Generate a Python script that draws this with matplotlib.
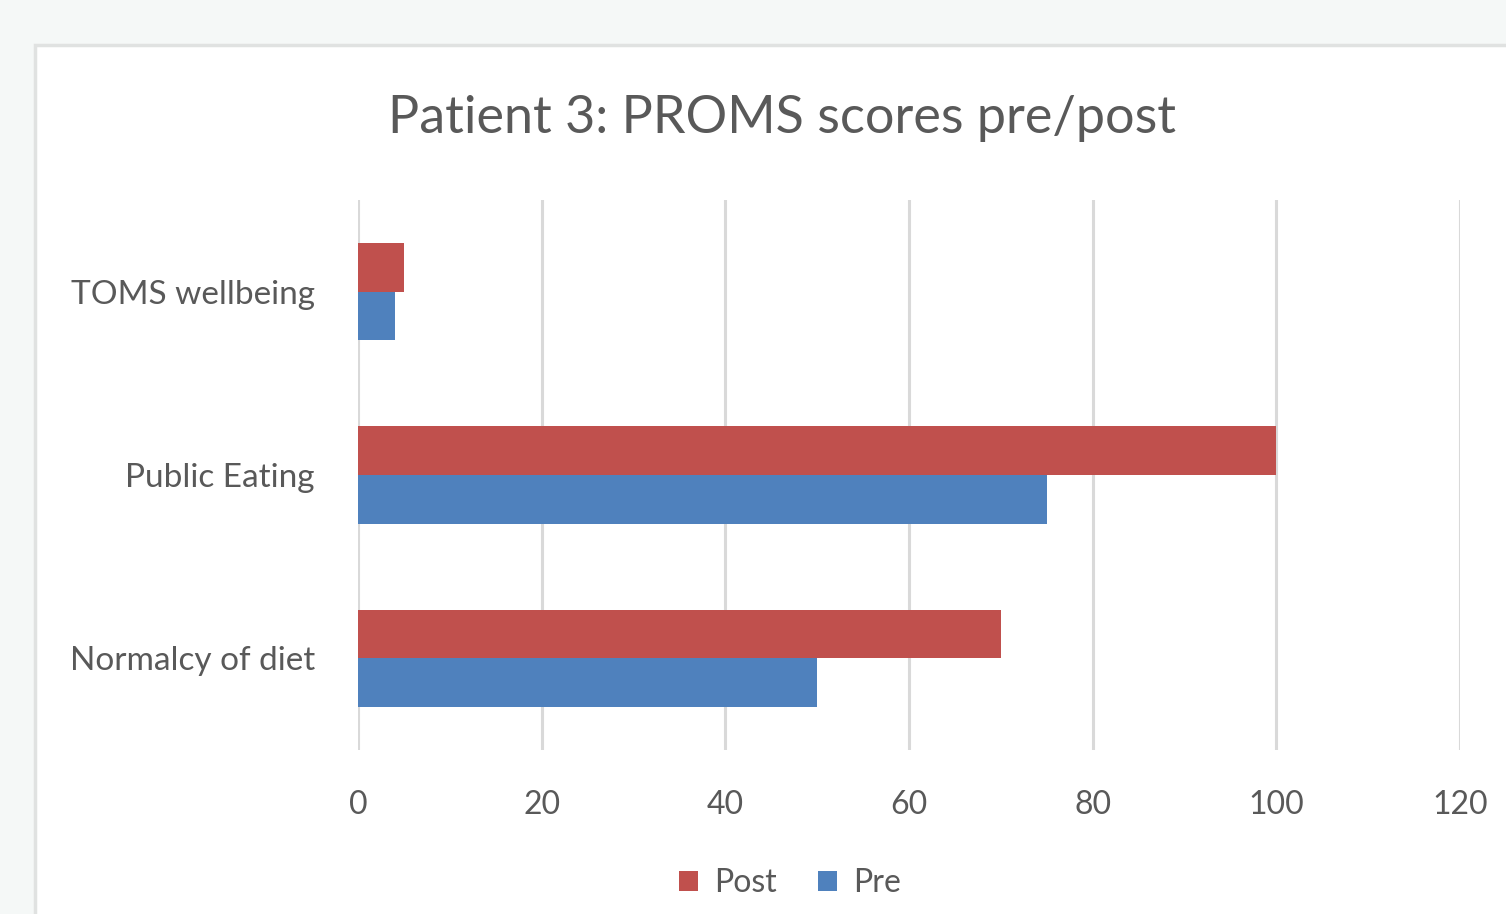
import matplotlib.pyplot as plt
from matplotlib.patches import Rectangle
import numpy as np

categories = ['Normalcy of diet', 'Public Eating', 'TOMS wellbeing']
post_scores = [70, 100, 5]
pre_scores = [50, 75, 4]
x_ticks = [0, 20, 40, 60, 80, 100, 120]

plt.rcParams['font.family'] = ['Lato', 'DejaVu Sans']

W, H = 1506, 914
fig = plt.figure(figsize=(W / 100, H / 100), dpi=100, facecolor='#f5f8f7')

# white chart panel with a thin grey frame
panel = Rectangle((35 / W, -0.05), 1.1, 1 - 45 / H + 0.05, transform=fig.transFigure,
                  facecolor='white', edgecolor='#e0e2e1', linewidth=2.5, zorder=-10)
fig.patches.append(panel)

ax = fig.add_axes([358 / W, 1 - 750 / H, (1460 - 358) / W, 550 / H])
ax.set_facecolor('none')

y = np.arange(len(categories))
h = 0.265
ax.barh(y + h / 2, post_scores, height=h, color='#c0504d', label='Post', zorder=3)
ax.barh(y - h / 2, pre_scores, height=h, color='#4f81bd', label='Pre', zorder=3)

ax.set_xlim(0, 120)
ax.set_ylim(-0.5, 2.5)
ax.set_xticks(x_ticks)
ax.set_yticks(y)
ax.set_yticklabels(categories)
ax.tick_params(axis='x', length=0, pad=29, labelsize=23, labelcolor='#595959')
ax.tick_params(axis='y', length=0, pad=31, labelsize=24, labelcolor='#595959')
ax.grid(axis='x', color='#d9d9d9', linewidth=2.2, zorder=0)
for s in ax.spines.values():
    s.set_visible(False)

fig.text(782 / W, 1 - 119 / H, 'Patient 3: PROMS scores pre/post', ha='center', va='center',
         fontsize=37.5, color='#595959')

handles, labels = ax.get_legend_handles_labels()
fig.legend(handles, labels, loc='center', bbox_to_anchor=(790 / W, 1 - 883 / H), ncol=2,
           frameon=False, fontsize=23, labelcolor='#595959', handlelength=0.6,
           handleheight=0.6, handletextpad=0.5, columnspacing=1.3)

fig.savefig('out.png', dpi=100, facecolor=fig.get_facecolor())
